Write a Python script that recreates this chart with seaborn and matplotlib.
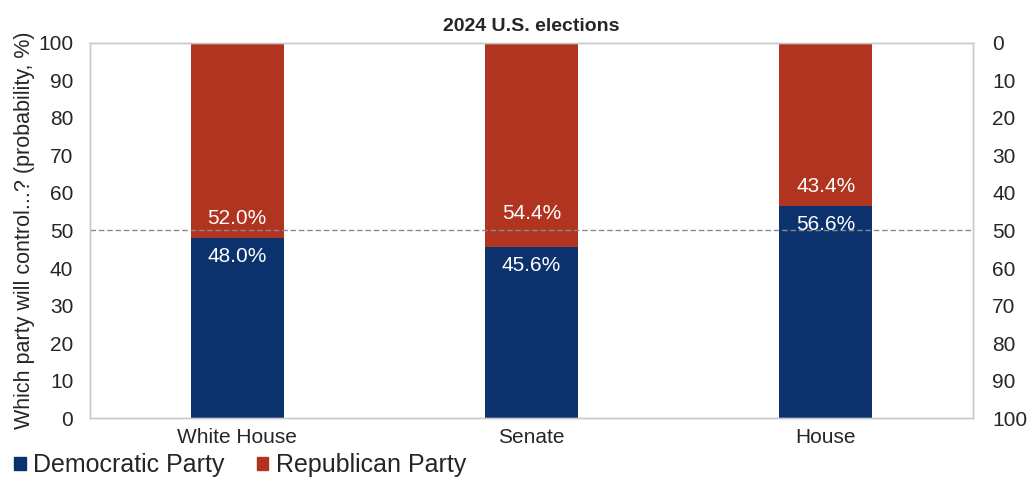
import matplotlib.pyplot as plt
import seaborn as sns
import pandas as pd

categories = ['White House', 'Senate', 'House']
democratic = [48.0, 45.6, 56.6]
republican = [52.0, 54.4, 43.4]

dem_color = '#0c326e'
rep_color = '#b0341f'

sns.set_style('white')
plt.rcParams['font.family'] = ['Liberation Sans', 'DejaVu Sans']

df = pd.DataFrame({'category': categories, 'dem': democratic, 'rep': republican})
df['total'] = df['dem'] + df['rep']

fig, ax = plt.subplots(figsize=(10.29, 5.01), dpi=100)
pos = [0.0875, 0.165, 0.858, 0.75]

# stacked: full bar in red, democratic share on top from zero
sns.barplot(data=df, x='category', y='total', color=rep_color, width=0.315,
            saturation=1, linewidth=0, ax=ax)
sns.barplot(data=df, x='category', y='dem', color=dem_color, width=0.315,
            saturation=1, linewidth=0, ax=ax)

ax.axhline(50, color='#8a8a8a', linestyle=(0, (4, 2)), linewidth=1, zorder=5)

# label offsets above the boundary (Senate label sits clear of the 50 line)
rep_nudge = [2.6, 6.5, 2.6]
for i, (d, r) in enumerate(zip(democratic, republican)):
    ax.text(i, d - 2.4, f'{d:.1f}%', ha='center', va='top', color='white',
            fontsize=15, zorder=6)
    ax.text(i, d + rep_nudge[i], f'{r:.1f}%', ha='center', va='bottom', color='white',
            fontsize=15, zorder=6)

ax.set_ylim(0, 100)
ax.set_xlim(-0.5, 2.5)
ax.set_yticks(range(0, 101, 10))
ax.tick_params(axis='y', labelsize=15, length=0, pad=12)
ax.tick_params(axis='x', labelsize=15, length=0, pad=7)
ax.set_xlabel('')
ax.set_ylabel('Which party will control...? (probability, %)', fontsize=15.5, labelpad=2)
ax.set_title('2024 U.S. elections', fontsize=14, fontweight='bold', pad=8)

ax2 = ax.twinx()
ax2.set_ylim(100, 0)
ax2.set_yticks(range(0, 101, 10))
ax2.tick_params(axis='y', labelsize=15, length=0, pad=14)

ax.set_position(pos)
ax2.set_position(pos)

for a in (ax, ax2):
    for s in a.spines.values():
        s.set_color('#c8c8c8')
        s.set_linewidth(1)

handles = [plt.Rectangle((0, 0), 1, 1, color=dem_color),
           plt.Rectangle((0, 0), 1, 1, color=rep_color)]
fig.legend(handles, ['Democratic Party', 'Republican Party'], loc='lower left',
           bbox_to_anchor=(-0.008, 0.002), ncol=2, frameon=False, fontsize=18,
           handlelength=0.45, handleheight=0.45, handletextpad=0.3, columnspacing=1.3)

fig.savefig('out.png', dpi=100)
